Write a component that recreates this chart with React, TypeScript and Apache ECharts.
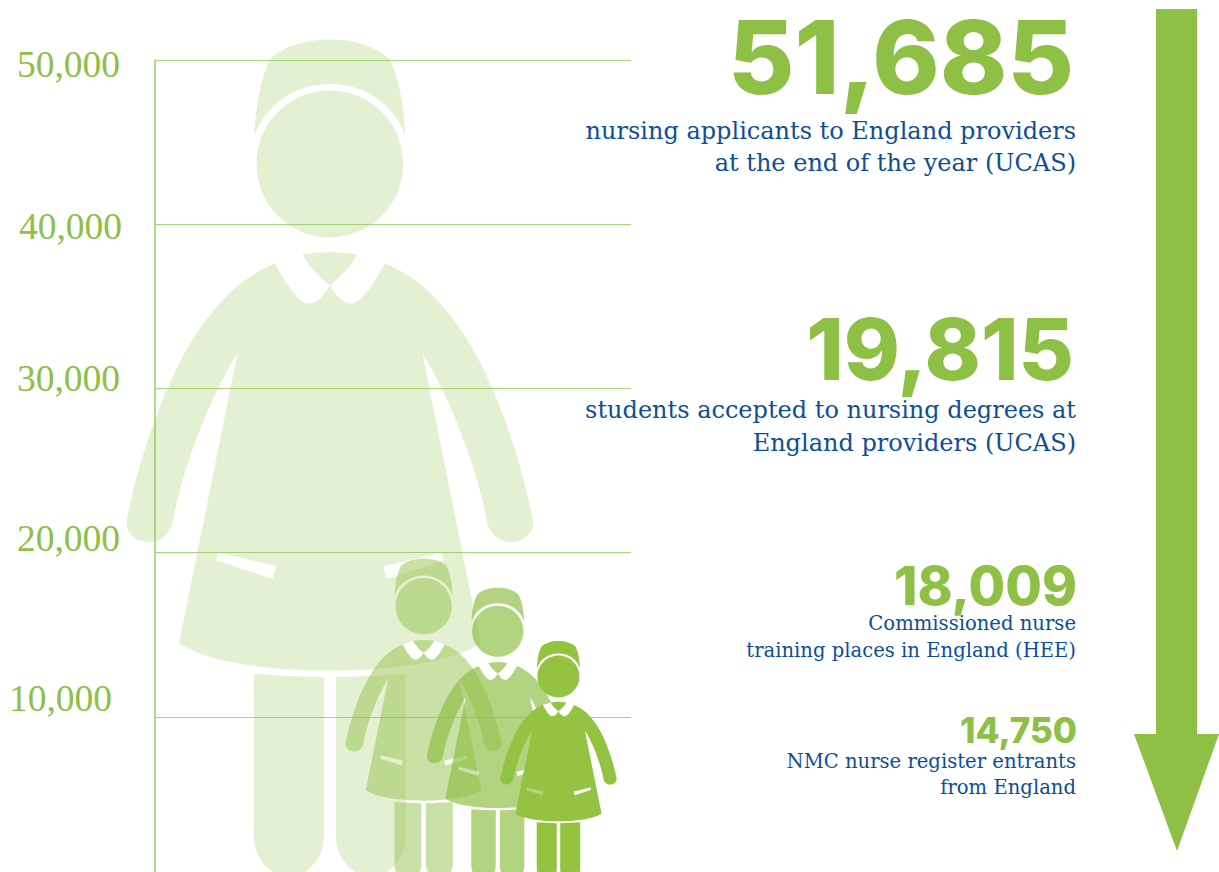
import React, { useEffect, useRef } from "react";
import * as echarts from "echarts";

// ---- data ----
const axisTicks = [10000, 20000, 30000, 40000, 50000];
const statValues = [51685, 19815, 18009, 14750];
const statCaptions = [
  ["nursing applicants to England providers", "at the end of the year (UCAS)"],
  ["students accepted to nursing degrees at", "England providers (UCAS)"],
  ["Commissioned nurse", "training places in England (HEE)"],
  ["NMC nurse register entrants", "from England"],
];

// ---- layout & style ----
const W = 1219;
const H = 872;
const GREEN = "#8dc044";
const BLUE = "#0c4f97";
const LINE = "#a9d480";
const AXIS_LINE = "#98d068";
const SERIF = '"Liberation Serif", serif';
const CAPTION_FONT = '"DejaVu Serif", serif';
const NUMBER_FONT = "Inter, sans-serif";
const figureCentreX = [175, 268.5, 342.7, 403.3]; // on hidden x axis (0..476)
const figureOpacity = [0.24, 0.47, 0.68, 1];
const figureFill = [GREEN, GREEN, GREEN, "#94c341"];
const statLayout = [
  { numX: 1074, numY: 57, numSize: 102, capY: [131, 163], capSize: 24 },
  { numX: 1074, numY: 349, numSize: 85, capY: [410, 443], capSize: 24 },
  { numX: 1077, numY: 586, numSize: 53, capY: [623, 650], capSize: 19.6 },
  { numX: 1077, numY: 730, numSize: 35, capY: [761, 787], capSize: 19.6 },
];
// label nudges: [top, right, bottom, left] padding shifts the axis labels off their lines
const labelPadding: Record<number, number[]> = {
  50000: [8, 2, 0, 0],
  40000: [5, 0, 0, 0],
  30000: [0, 2, 20, 0],
  20000: [0, 2, 28, 0],
  10000: [0, 10, 36, 0],
};

// Nurse outline, drawn in a 848.3-tall box centred on x=330 with its base at y=881
const NURSE_BODY =
  "M254.3,136.7 C256,105 262,72 272,58 C285,47 305,40 330,40 C355,40 375,47 388,58 C398,72 404,105 405.7,136.7 C395,105 365,84.3 330,84.3 C295,84.3 265,105 254.3,136.7 Z " +
  "M256.7,164.3 C256.7,123.8 289.5,91 330,91 C370.5,91 403.3,123.8 403.3,164.3 C403.3,204.8 370.5,237.6 330,237.6 C289.5,237.6 256.7,204.8 256.7,164.3 Z " +
  "M302.7,255 Q330,250 357.3,255 C350,268 340,278 330,285.7 C320,278 310,268 302.7,255 Z " +
  "M275,264 C240,278 215,305 192.7,340 C165,385 140,455 127.3,518 C124,533 135,542.5 150,542.5 C161,542.5 170,534 172.7,523 C180,480 205,405 237.7,353.3 L179.3,643.3 C205,662 270,671 330,671 C390,671 455,662 480.7,643.3 L422.3,353.3 C455,405 480,480 487.3,523 C490,534 499,542.5 510,542.5 C525,542.5 536,533 532.7,518 C520,455 495,385 467.3,340 C445,305 420,278 385,264 C375,282 362,304 351.7,304 C343,304 335,295 330,285.7 C325,295 317,304 308.3,304 C298,304 285,282 275,264 Z " +
  "M218.3,552.3 L276.7,566.7 L272.7,579.3 L216,560.7 Z " +
  "M383.3,566.7 L441.7,552.3 L444,560.7 L386.7,579.3 Z " +
  "M254,674.3 L254,836.7 C254,858 270,877 289,877 C308,877 324,858 324,836.7 L324,677.3 Q290,677 254,674.3 Z " +
  "M336,677.3 L336,836.7 C336,858 352,877 371,877 C390,877 406,858 406,836.7 L406,674.3 Q370,677 336,677.3 Z";
const NURSE_COLLAR =
  "M275,264 C285,282 298,304 308.3,304 C317,304 325,295 330,285.7 C335,295 343,304 351.7,304 C362,304 375,282 385,264 L357.3,255 C350,268 340,278 330,285.7 C320,278 310,268 302.7,255 Z";
const NURSE_BOX_H = 848.3;
const NURSE_BASE_Y = 881;
const NURSE_CX = 330;

export default function App() {
  const ref = useRef<HTMLDivElement>(null);
  useEffect(() => {
    const chart = echarts.init(ref.current!, null, { renderer: "svg" });
    const rich: Record<string, any> = {};
    axisTicks.forEach((t) => {
      rich["t" + t] = {
        fontFamily: SERIF,
        fontSize: 37.5,
        color: GREEN,
        padding: labelPadding[t],
      };
    });
    const graphics: any[] = [
      {
        type: "polygon",
        shape: {
          points: [
            [1156, 9],
            [1197, 9],
            [1197, 734],
            [1219, 734],
            [1177, 851],
            [1134, 734],
            [1156, 734],
          ],
        },
        style: { fill: GREEN },
      },
    ];
    statValues.forEach((v, i) => {
      const l = statLayout[i];
      graphics.push({
        type: "text",
        x: l.numX,
        y: l.numY,
        style: {
          text: v.toLocaleString("en-US"),
          fontFamily: NUMBER_FONT,
          fontWeight: 800,
          fontSize: l.numSize,
          fill: GREEN,
          textAlign: "right",
          textVerticalAlign: "middle",
        },
      });
      statCaptions[i].forEach((c, j) => {
        graphics.push({
          type: "text",
          x: 1076,
          y: l.capY[j],
          style: {
            text: c,
            fontFamily: CAPTION_FONT,
            fontSize: l.capSize,
            fill: BLUE,
            textAlign: "right",
            textVerticalAlign: "middle",
          },
        });
      });
    });
    chart.setOption({
      animation: false,
      grid: { left: 155, top: 60, width: 476, height: 821, containLabel: false },
      xAxis: { type: "value", min: 0, max: 476, show: false },
      yAxis: {
        type: "value",
        min: 0,
        max: 50000,
        interval: 10000,
        axisLine: { show: true, lineStyle: { color: AXIS_LINE, width: 1.5 } },
        axisTick: { show: false },
        splitLine: { show: true, lineStyle: { color: LINE, width: 1 } },
        axisLabel: {
          margin: 33,
          formatter: (v: number) =>
            v === 0 ? "" : `{t${v}|${v.toLocaleString("en-US")}}`,
          rich,
        },
      },
      series: [
        {
          type: "custom",
          clip: false,
          encode: { x: 0, y: 1 },
          data: statValues.map((v, i) => [figureCentreX[i], v]),
          renderItem: (params: any, api: any) => {
            const i = params.dataIndex;
            const top = api.coord([api.value(0), api.value(1)]);
            const base = api.coord([api.value(0), 0]);
            const s = (base[1] - top[1]) / NURSE_BOX_H;
            const px = top[0] - NURSE_CX * s;
            const py = base[1] - NURSE_BASE_Y * s;
            return {
              type: "group",
              children: [
                {
                  type: "path",
                  x: px,
                  y: py,
                  scaleX: s,
                  scaleY: s,
                  shape: { pathData: NURSE_COLLAR },
                  style: { fill: "#ffffff" },
                },
                {
                  type: "path",
                  x: px,
                  y: py,
                  scaleX: s,
                  scaleY: s,
                  shape: { pathData: NURSE_BODY },
                  style: { fill: figureFill[i], opacity: figureOpacity[i] },
                },
              ],
            };
          },
        },
      ],
      graphic: { elements: graphics },
    });
    return () => chart.dispose();
  }, []);
  return (
    <div style={{ position: "fixed", left: 0, top: 0, width: W, height: H, overflow: "hidden", background: "#fff" }}>
      <div ref={ref} style={{ width: W, height: H + 40 }} />
    </div>
  );
}
